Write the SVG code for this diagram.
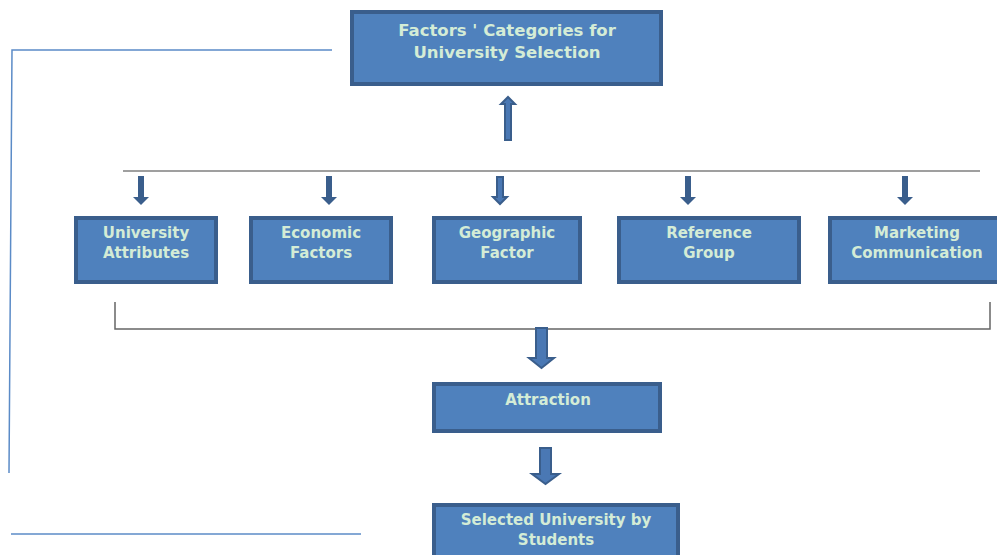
<svg xmlns="http://www.w3.org/2000/svg" width="997" height="555" viewBox="0 0 997 555">
<defs>
<style>
.box{fill:#4F81BD;stroke:#3A5E8C;stroke-width:4}
.t{font-family:"DejaVu Sans",sans-serif;font-size:15px;font-weight:bold;fill:#D4ECD6;text-anchor:middle}
.tl{font-size:16.5px}
.ln{fill:none;stroke:#7F7F7F;stroke-width:1.5}
.bl{fill:none;stroke:#5B8BC7;stroke-width:1.5}
.ar{fill:#3A5E8C}
.ar2{fill:#4A78B4;stroke:#3A5E8C;stroke-width:2}
</style>
</defs>
<g id="connectors">
<polyline class="bl" points="332,50 12,50 9,473"/>
<line class="bl" x1="11" y1="534" x2="361" y2="534"/>
<line class="ln" x1="123" y1="171" x2="980" y2="171"/>
<polyline class="ln" points="115,302 115,329 990,329 990,302" style="stroke:#666"/>
<path class="ar2" d="M505,140 L505,104 L501,104 L508,97 L515,104 L511,104 L511,140 Z"/>
<path class="ar" d="M138,176 h6 v21 h5 l-8,8 l-8,-8 h5 z"/>
<path class="ar" d="M326,176 h6 v21 h5 l-8,8 l-8,-8 h5 z"/>
<path class="ar2" d="M497,177 h6 v20 h4 l-7,7 l-7,-7 h4 z"/>
<path class="ar" d="M685,176 h6 v21 h5 l-8,8 l-8,-8 h5 z"/>
<path class="ar" d="M902,176 h6 v21 h5 l-8,8 l-8,-8 h5 z"/>
<path class="ar2" d="M536,328 h11 v30 h7 l-12.5,10 l-12.5,-10 h7 z"/>
<path class="ar2" d="M540,448 h11 v26 h8 l-13.5,10 l-13.5,-10 h8 z"/>
</g>
<g id="n-top">
<rect class="box" x="352" y="12" width="309" height="72"/>
<text class="t tl" x="507" y="36">Factors ' Categories for</text>
<text class="t tl" x="507" y="58">University Selection</text>
</g>
<g id="n-univ">
<rect class="box" x="76" y="218" width="140" height="64"/>
<text class="t" x="146" y="238">University</text>
<text class="t" x="146" y="258">Attributes</text>
</g>
<g id="n-econ">
<rect class="box" x="251" y="218" width="140" height="64"/>
<text class="t" x="321" y="238">Economic</text>
<text class="t" x="321" y="258">Factors</text>
</g>
<g id="n-geo">
<rect class="box" x="434" y="218" width="146" height="64"/>
<text class="t" x="507" y="238">Geographic</text>
<text class="t" x="507" y="258">Factor</text>
</g>
<g id="n-ref">
<rect class="box" x="619" y="218" width="180" height="64"/>
<text class="t" x="709" y="238">Reference</text>
<text class="t" x="709" y="258">Group</text>
</g>
<g id="n-mkt">
<rect class="box" x="830" y="218" width="170" height="64"/>
<text class="t" x="917" y="238">Marketing</text>
<text class="t" x="917" y="258">Communication</text>
</g>
<g id="n-attr">
<rect class="box" x="434" y="384" width="226" height="47"/>
<text class="t" x="548" y="405">Attraction</text>
</g>
<g id="n-sel">
<rect class="box" x="434" y="505" width="244" height="55"/>
<text class="t" x="556" y="525">Selected University by</text>
<text class="t" x="556" y="545">Students</text>
</g>
</svg>
